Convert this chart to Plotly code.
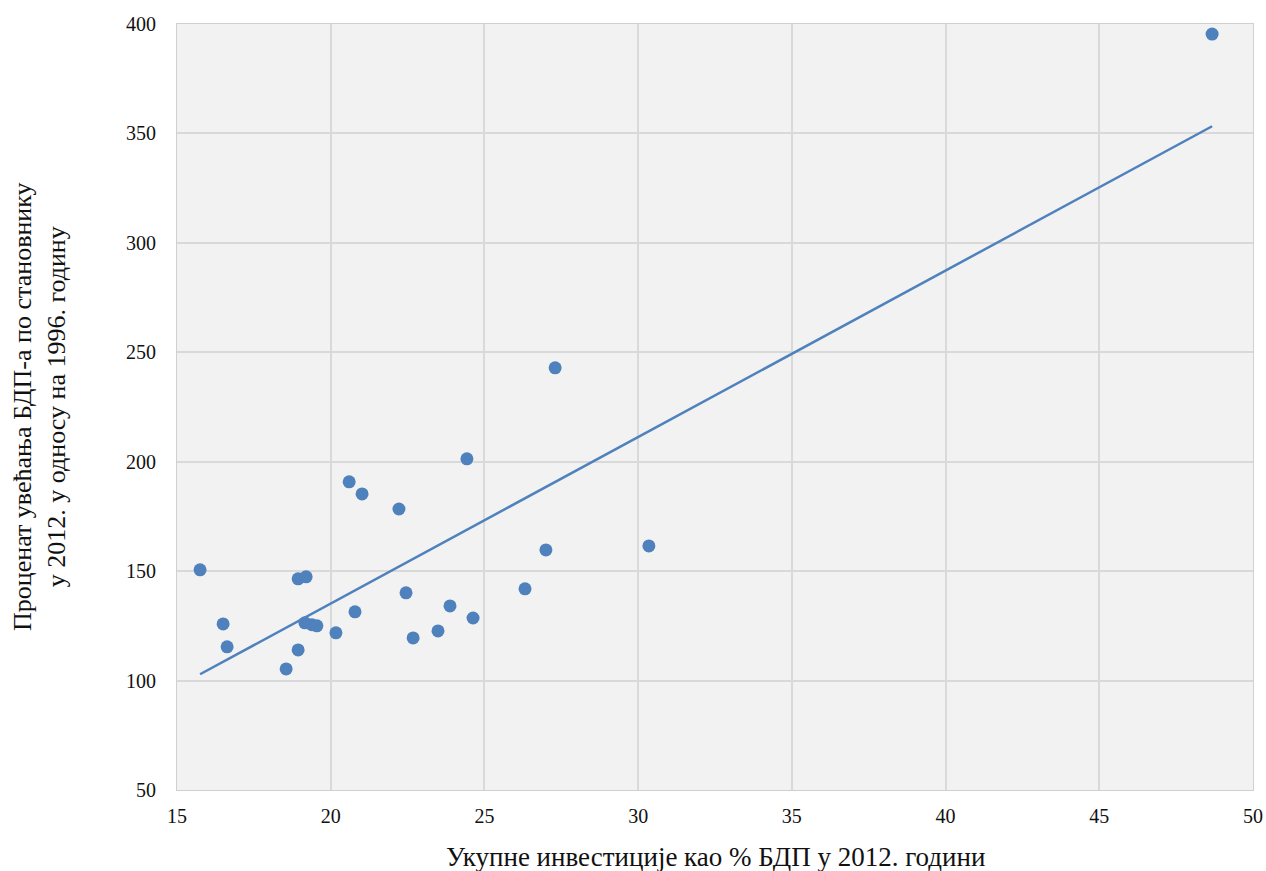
import numpy as np
import plotly.graph_objects as go

# Investment as % of GDP in 2012
investment = [15.75, 16.5, 16.63, 18.55, 18.94, 18.94, 19.2, 19.16, 19.39, 19.55,
              20.17, 20.6, 20.79, 21.02, 22.22, 22.45, 22.68, 23.49, 23.88, 24.43,
              24.63, 26.32, 27.0, 27.3, 30.35, 48.67]
# Percent growth of GDP per capita 2012 vs 1996
growth = [150.6, 125.9, 115.4, 105.3, 114.0, 146.5, 147.4, 126.4, 125.5, 125.0,
          121.8, 190.8, 131.4, 185.3, 178.4, 140.1, 119.5, 122.7, 134.1, 201.3,
          128.6, 141.9, 159.7, 242.9, 161.5, 395.4]

x_ticks = [15, 20, 25, 30, 35, 40, 45, 50]
y_ticks = [50, 100, 150, 200, 250, 300, 350, 400]

x_title = "Укупне инвестиције као % БДП у 2012. години"
y_title = "Проценат увећања БДП-а по становнику<br>у 2012. у односу на 1996. годину"

slope, intercept = np.polyfit(investment, growth, 1)
tx = [min(investment), max(investment)]
ty = [slope * v + intercept for v in tx]

color = "#4f81bd"
font = "Liberation Serif, Times New Roman, serif"
txt = "#111111"

fig = go.Figure()
fig.add_trace(go.Scatter(x=tx, y=ty, mode="lines",
                         line=dict(color=color, width=2.5), hoverinfo="skip",
                         showlegend=False))
fig.add_trace(go.Scatter(x=investment, y=growth, mode="markers",
                         marker=dict(color=color, size=13), showlegend=False))

fig.update_layout(
    width=1266, height=871, autosize=False,
    margin=dict(l=177, r=13, t=24, b=81),
    paper_bgcolor="white", plot_bgcolor="#f2f2f2",
    font=dict(family=font, size=20, color=txt),
    xaxis=dict(range=[15, 50], tickvals=x_ticks, showgrid=True,
               gridcolor="#d9d9d9", gridwidth=1.5, zeroline=False,
               showline=True, linecolor="#d0d0d0", mirror=True,
               automargin=False,
               ticks="", ticklen=0, ticklabelstandoff=8,
               tickfont=dict(family=font, size=20, color=txt)),
    yaxis=dict(range=[50, 400], tickvals=y_ticks, showgrid=True,
               gridcolor="#d9d9d9", gridwidth=1.5, zeroline=False,
               showline=True, linecolor="#d0d0d0", mirror=True,
               automargin=False,
               ticks="", ticklen=0, ticklabelstandoff=16,
               tickfont=dict(family=font, size=20, color=txt)),
    annotations=[
        dict(text=x_title, xref="paper", yref="paper", x=0.5, y=0,
             yshift=-67, showarrow=False, yanchor="middle",
             font=dict(family=font, size=27, color=txt)),
        dict(text=y_title, xref="paper", yref="paper", x=0, y=0.5,
             xshift=-138, showarrow=False, textangle=-90, xanchor="center",
             font=dict(family=font, size=26, color=txt)),
    ],
)

fig.write_html("out.html",
               config={"responsive": False, "displayModeBar": False},
               post_script="document.body.style.margin='0';document.body.style.overflow='hidden';")
